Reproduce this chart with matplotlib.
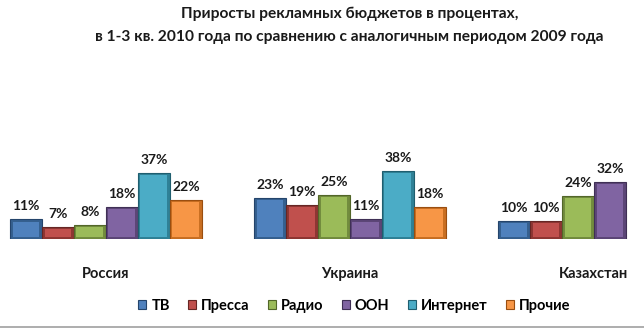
import numpy as np
import matplotlib
matplotlib.use('Agg')
import matplotlib.pyplot as plt
from matplotlib.patches import Patch

plt.rcParams['font.family'] = ['Lato', 'Open Sans', 'DejaVu Sans']

# data
countries = ['Россия', 'Украина', 'Казахстан']
media = ['ТВ', 'Пресса', 'Радио', 'ООН', 'Интернет', 'Прочие']
tv = [11, 23, 10]
press = [7, 19, 10]
radio = [8, 25, 24]
ooh = [18, 11, 32]
internet = [37, 38, np.nan]
other = [22, 18, np.nan]

series = [tv, press, radio, ooh, internet, other]
colors = ['#4F81BD', '#C0504D', '#9BBB59', '#8064A2', '#4BACC6', '#F79646']
shades = ['#35608F', '#8E3633', '#728C3E', '#5C4677', '#2F8197', '#C96F22']
edges = ['#24446B', '#662624', '#526628', '#3F2F55', '#1F5E6F', '#9A4E10']

fig = plt.figure(figsize=(6.44, 3.30), dpi=100)
ax = fig.add_axes([0, 91 / 330, 1, 89 / 330])

x = np.arange(len(countries))
w = 0.131
for i, (vals, c, sh, ec) in enumerate(zip(series, colors, shades, edges)):
    pos = x + (i - 2.5) * w
    vals = np.array(vals, dtype=float)
    ok = ~np.isnan(vals)
    # darker outer block, then the face on top gives a bevelled bar
    ax.bar(pos[ok], vals[ok], width=w, color=sh, edgecolor=ec, linewidth=0.8, zorder=2)
    ax.bar(pos[ok], vals[ok] - 2.2, bottom=1.0, width=w * 0.84, color=c,
           edgecolor='none', zorder=3)
    for p, v in zip(pos[ok], vals[ok]):
        ax.annotate(f'{int(v)}%', (p, v), xytext=(0, 5), textcoords='offset points',
                    ha='center', va='bottom', fontsize=10, fontweight='bold', color='#1a1a1a')

ax.set_xlim(-0.434, 2.205)
ax.set_ylim(0, 50)
ax.set_xticks(x)
ax.set_xticklabels(countries, fontsize=10.5, fontweight='bold', color='#1a1a1a')
ax.tick_params(axis='x', length=0, pad=20)
ax.set_yticks([])
for s in ax.spines.values():
    s.set_visible(False)

fig.text(0.543, 0.957, 'Приросты рекламных бюджетов в процентах,', ha='center', va='center',
         fontsize=11.2, fontweight='bold', color='#1a1a1a')
fig.text(0.543, 0.887, 'в 1-3 кв. 2010 года по сравнению с аналогичным периодом 2009 года',
         ha='center', va='center', fontsize=11.2, fontweight='bold', color='#1a1a1a')

handles = [Patch(facecolor=c, edgecolor=ec, linewidth=0.8) for c, ec in zip(colors, edges)]
fig.legend(handles, media, loc='center', bbox_to_anchor=(0.55, 0.073), ncol=6,
           frameon=False, handlelength=0.55, handleheight=0.55, handletextpad=0.35,
           columnspacing=1.25, prop={'size': 10.5, 'weight': 'bold'})

fig.add_artist(plt.Line2D([0, 1], [0.008, 0.008], color='#a0a0a0', linewidth=1.2))

fig.savefig('out.png', dpi=100)
